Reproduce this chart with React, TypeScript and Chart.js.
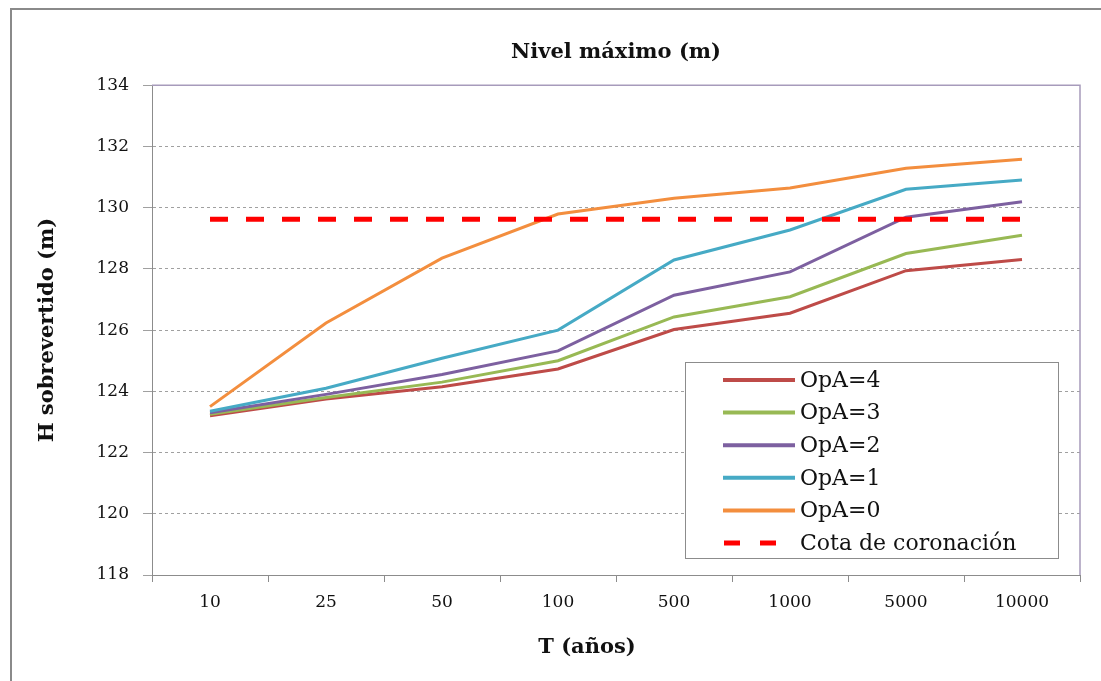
import React, { useEffect, useRef } from "react";
import { Chart, registerables } from "chart.js";

Chart.register(...registerables);

const categories = ["10", "25", "50", "100", "500", "1000", "5000", "10000"];
const opa4 = [123.2, 123.75, 124.15, 124.73, 126.02, 126.55, 127.94, 128.31];
const opa3 = [123.25, 123.8, 124.3, 125.0, 126.43, 127.09, 128.5, 129.1];
const opa2 = [123.3, 123.9, 124.55, 125.32, 127.14, 127.9, 129.69, 130.19];
const opa1 = [123.35, 124.1, 125.08, 126.0, 128.29, 129.27, 130.6, 130.9];
const opa0 = [123.5, 126.23, 128.35, 129.79, 130.31, 130.64, 131.29, 131.58];
const cota = [129.62, 129.62, 129.62, 129.62, 129.62, 129.62, 129.62, 129.62];

const seriesLabels = ["OpA=4", "OpA=3", "OpA=2", "OpA=1", "OpA=0", "Cota de coronación"];
const seriesColors = ["#BE4B48", "#98B954", "#7D60A0", "#46AAC5", "#F38E3E", "#FF0000"];

const titleText = "Nivel máximo (m)";
const xTitle = "T (años)";
const yTitle = "H sobrevertido (m)";
const yMin = 118;
const yMax = 134;
const yStep = 2;

const SERIF = "'DejaVu Serif', serif";

const decorPlugin = {
  id: "decor",
  beforeDraw(chart: any) {
    const { ctx, width, height } = chart;
    ctx.save();
    ctx.fillStyle = "#ffffff";
    ctx.fillRect(0, 0, width, height);
    ctx.strokeStyle = "#8a8a8a";
    ctx.lineWidth = 2;
    ctx.beginPath();
    ctx.moveTo(11, height);
    ctx.lineTo(11, 9);
    ctx.lineTo(width, 9);
    ctx.stroke();
    ctx.restore();
  },
  afterDatasetsDraw(chart: any) {
    const { ctx, chartArea } = chart;
    ctx.save();
    // plot area frame (top & right)
    ctx.strokeStyle = "#a79bbb";
    ctx.lineWidth = 1.5;
    ctx.beginPath();
    ctx.moveTo(chartArea.left, chartArea.top);
    ctx.lineTo(chartArea.right, chartArea.top);
    ctx.lineTo(chartArea.right, chartArea.bottom);
    ctx.stroke();

    // legend
    const bx = 685, by = 362, bw = 373, bh = 196;
    ctx.fillStyle = "#ffffff";
    ctx.fillRect(bx, by, bw, bh);
    ctx.strokeStyle = "#8c8c8c";
    ctx.lineWidth = 1;
    ctx.strokeRect(bx + 0.5, by + 0.5, bw, bh);
    ctx.font = "22px " + SERIF;
    ctx.textBaseline = "middle";
    ctx.textAlign = "left";
    chart.data.datasets.forEach((ds: any, i: number) => {
      const y = 380 + i * 32.6;
      ctx.strokeStyle = ds.borderColor;
      ctx.lineWidth = i === 5 ? 5 : 4;
      ctx.setLineDash(i === 5 ? [16, 20] : []);
      ctx.beginPath();
      ctx.moveTo(i === 5 ? 724 : 723, y);
      ctx.lineTo(i === 5 ? 777 : 795, y);
      ctx.stroke();
      ctx.setLineDash([]);
      ctx.fillStyle = "#111";
      ctx.fillText(ds.label, 800, y + 1);
    });

    // x-axis title
    ctx.font = "bold 21px " + SERIF;
    ctx.textAlign = "center";
    ctx.fillStyle = "#111";
    ctx.fillText(xTitle, 587, 648);
    ctx.restore();
  },
};

export default function App() {
  const ref = useRef<HTMLCanvasElement>(null);
  useEffect(() => {
    if (!ref.current) return;
    const mk = (label: string, data: number[], idx: number) => ({
      label,
      data,
      borderColor: seriesColors[idx],
      backgroundColor: seriesColors[idx],
      borderWidth: idx === 5 ? 5 : 3,
      borderDash: idx === 5 ? [18, 18] : [],
      pointRadius: 0,
      tension: 0,
      fill: false,
      order: 10 - idx,
    });
    const chart = new Chart(ref.current, {
      type: "line",
      data: {
        labels: categories,
        datasets: [
          mk(seriesLabels[0], opa4, 0),
          mk(seriesLabels[1], opa3, 1),
          mk(seriesLabels[2], opa2, 2),
          mk(seriesLabels[3], opa1, 3),
          mk(seriesLabels[4], opa0, 4),
          mk(seriesLabels[5], cota, 5),
        ],
      },
      options: {
        animation: false,
        responsive: false,
        layout: { padding: { left: 0, right: 21, top: 0, bottom: 0 } },
        plugins: {
          legend: { display: false },
          tooltip: { enabled: false },
          title: {
            display: true,
            text: titleText,
            fullSize: false,
            color: "#111",
            font: { family: SERIF, size: 21, weight: "bold", lineHeight: 1.2 },
            padding: { top: 40, bottom: 20 },
          },
        },
        scales: {
          x: {
            type: "category",
            offset: true,
            afterFit: (s: any) => {
              s.height = 106;
            },
            grid: {
              drawOnChartArea: false,
              drawTicks: true,
              tickLength: 7,
              offset: true,
              color: "#8c8c8c",
            },
            border: { color: "#8c8c8c", width: 1 },
            ticks: {
              color: "#111",
              font: { family: SERIF, size: 17 },
              padding: 10,
              maxRotation: 0,
              autoSkip: false,
            },
          },
          y: {
            min: yMin,
            max: yMax,
            afterFit: (s: any) => {
              s.width = 152;
            },
            ticks: {
              stepSize: yStep,
              color: "#111",
              font: { family: SERIF, size: 17 },
              padding: 14,
            },
            grid: {
              color: "#a0a0a0",
              tickLength: 9,
              tickColor: "#a0a0a0",
              lineWidth: 1,
            },
            border: { color: "#8c8c8c", width: 1, dash: [3, 3] },
            title: {
              display: true,
              text: yTitle,
              color: "#111",
              font: { family: SERIF, size: 21, weight: "bold", lineHeight: 1.2 },
              padding: { top: 35, bottom: 0 },
            },
          },
        },
      },
      plugins: [decorPlugin],
    });
    return () => chart.destroy();
  }, []);
  return (
    <div style={{ position: "fixed", left: 0, top: 0, width: 1101, height: 681, background: "#fff" }}>
      <canvas ref={ref} width={1101} height={681} style={{ display: "block", width: 1101, height: 681 }} />
    </div>
  );
}
